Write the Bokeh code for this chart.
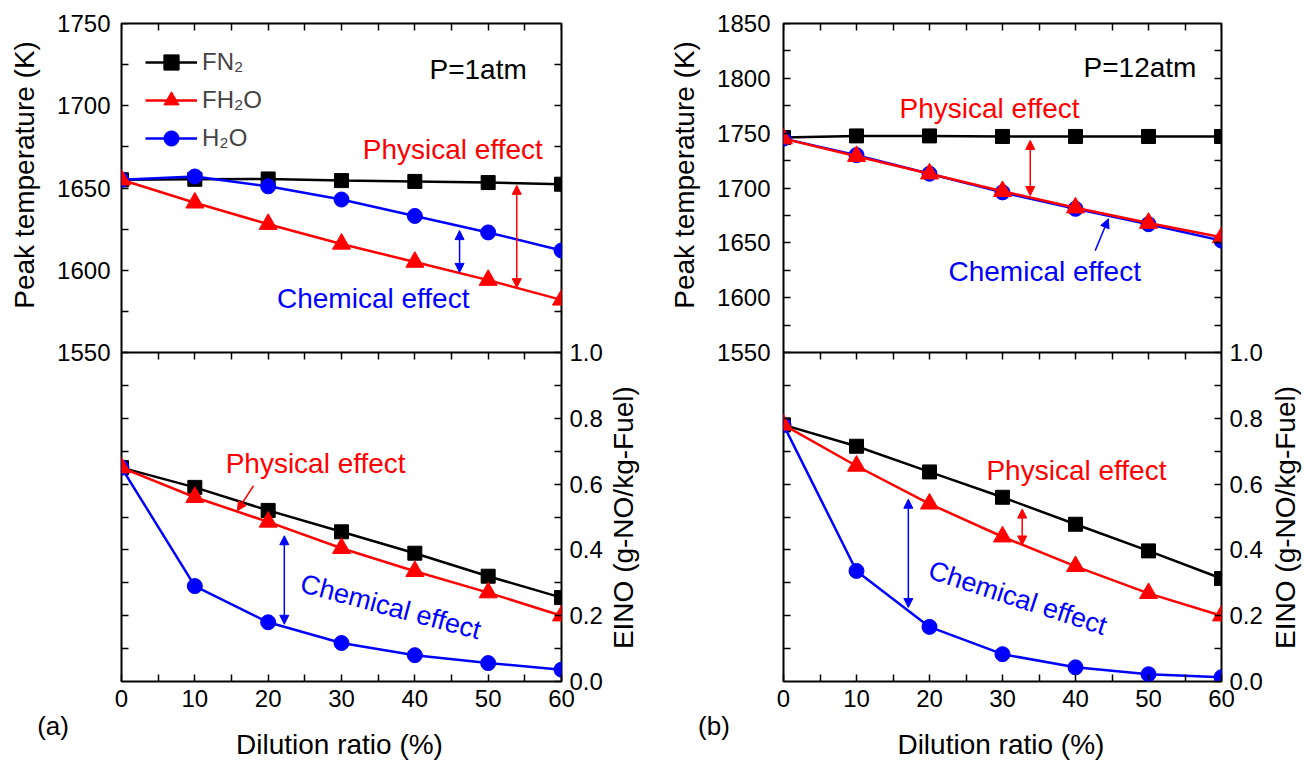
from bokeh.plotting import figure
from bokeh.models import (Range1d, LinearAxis, FixedTicker, Label, Arrow, NormalHead,
                          Legend, LegendItem, NumeralTickFormatter)
from bokeh.layouts import row, column
from bokeh.embed import file_html
from bokeh.resources import INLINE

# ---------------------------------------------------------------- data
dilution = [0, 10, 20, 30, 40, 50, 60]

# P = 1 atm : peak temperature (K)
t1_fn2 = [1655, 1655.3, 1655.5, 1654.5, 1654, 1653.3, 1652.3]
t1_fh2o = [1655, 1641, 1628, 1616, 1605, 1594, 1582]
t1_h2o = [1655, 1657, 1651, 1643, 1633, 1623, 1612]
# P = 1 atm : EINO (g-NO/kg-Fuel)
eino1_fn2 = [0.65, 0.59, 0.52, 0.455, 0.39, 0.32, 0.255]
eino1_fh2o = [0.65, 0.56, 0.485, 0.405, 0.335, 0.27, 0.2]
eino1_h2o = [0.65, 0.29, 0.18, 0.117, 0.08, 0.056, 0.036]

# P = 12 atm : peak temperature (K)
t12_fn2 = [1746, 1747.5, 1747.5, 1747, 1747, 1747, 1747]
t12_fh2o = [1745, 1729, 1713, 1697, 1682, 1668, 1655]
t12_h2o = [1745, 1730, 1713, 1696, 1681, 1667, 1652]
# P = 12 atm : EINO (g-NO/kg-Fuel)
eino12_fn2 = [0.78, 0.715, 0.637, 0.56, 0.478, 0.397, 0.313]
eino12_fh2o = [0.78, 0.655, 0.54, 0.44, 0.35, 0.268, 0.2]
eino12_h2o = [0.78, 0.336, 0.166, 0.083, 0.043, 0.022, 0.013]

series_names = ["FN\u2082", "FH\u2082O", "H\u2082O"]

x_ticks = [0, 10, 20, 30, 40, 50, 60]
x_minor = [5, 15, 25, 35, 45, 55]
t1_ticks = [1550, 1600, 1650, 1700, 1750]
t12_ticks = [1550, 1600, 1650, 1700, 1750, 1800, 1850]
eino_ticks = [0.0, 0.2, 0.4, 0.6, 0.8, 1.0]
eino_minor = [0.1, 0.3, 0.5, 0.7, 0.9]

FONT = "Liberation Sans"
RED = "#ff0000"
BLUE = "#0000ff"
BLACK = "#000000"

# panel geometry (pixels inside one panel)
TOP, BOTTOM = 23, 681          # plot box top / bottom
MAIN_H = 719                   # plot box plus the dilution tick labels
PAGE_H = 761
LEFT_PAD = 7                   # room for half of the "0" tick label
RIGHT_PAD = 45                 # room for the EINO tick labels


def style_axis(ax, labels=True, side_in=7):
    ax.major_tick_in = side_in
    ax.major_tick_out = 0
    ax.minor_tick_in = side_in
    ax.minor_tick_out = 0
    ax.major_tick_line_width = 1.5
    ax.minor_tick_line_width = 1.5
    ax.major_tick_line_color = BLACK
    ax.minor_tick_line_color = BLACK
    ax.axis_line_color = None
    ax.major_label_text_font = FONT
    ax.major_label_text_font_size = "24px"
    ax.major_label_text_color = BLACK if labels else None
    return ax


def add_text(p, text, x, y, color=BLACK, size="28px", rng="default", angle=0):
    # anchored at the start of the text, vertically at its middle
    p.add_layout(Label(x=x, y=y, text=text, text_font=FONT, text_font_size=size,
                       text_color=color, text_align="left", text_baseline="middle",
                       angle=angle, angle_units="deg", y_range_name=rng))


def add_arrow(p, x0, y0, x1, y1, color, rng="default", double=True):
    head = dict(size=9, fill_color=color, line_color=color, line_width=1)
    p.add_layout(Arrow(x_start=x0, y_start=y0, x_end=x1, y_end=y1,
                       start=NormalHead(**head) if double else None,
                       end=NormalHead(**head),
                       line_color=color, line_width=1.5, y_range_name=rng))


def text_box(geo, px0, px1, py0, py1):
    """A bare figure covering a pixel rectangle of the panel, with ranges
    aligned to the plot's own data coordinates so labels can use them."""
    L, R = geo["L"], geo["R"]
    (x0, x1), (y0, y1), (e0, e1) = geo["x"], geo["y"], geo["e"]

    def fx(px):
        return x0 + (px - L) * (x1 - x0) / (R - L)

    def fy(py):
        return y1 - (py - TOP) * (y1 - y0) / (BOTTOM - TOP)

    def fe(py):
        return e1 - (py - TOP) * (e1 - e0) / (BOTTOM - TOP)

    f = figure(width=px1 - px0, height=py1 - py0, min_border=0,
               x_range=Range1d(fx(px0), fx(px1)), y_range=Range1d(fy(py1), fy(py0)),
               x_axis_location=None, y_axis_location=None,
               output_backend="svg", toolbar_location=None)
    f.extra_y_ranges = {"eino": Range1d(fe(py1), fe(py0))}
    f.grid.visible = False
    f.outline_line_color = None
    f.background_fill_color = "white"
    f.border_fill_color = "white"
    return f


def make_panel(temps, einos, t_lo, t_hi, t_ticks, frame_left, frame_w, panel_w,
               label_gap, texts, arrows, with_legend):
    span = t_hi - t_lo
    p = figure(frame_width=frame_w, frame_height=BOTTOM - TOP,
               min_border_left=LEFT_PAD, min_border_right=RIGHT_PAD,
               min_border_top=TOP, min_border_bottom=MAIN_H - BOTTOM,
               x_range=Range1d(0, 60), y_range=Range1d(t_lo - span, t_hi),
               x_axis_location=None, y_axis_location=None,
               output_backend="svg", toolbar_location=None)
    p.extra_y_ranges = {"eino": Range1d(0, 2.0)}
    p.grid.visible = False
    p.outline_line_color = BLACK
    p.outline_line_width = 2
    p.background_fill_color = "white"
    p.border_fill_color = "white"

    # ticks along the left edge: temperature (upper half), EINO steps (lower half)
    t_minor = [t + 25 for t in t_ticks[:-1]]
    left = LinearAxis(fixed_location=0,
                      ticker=FixedTicker(ticks=t_ticks, minor_ticks=t_minor))
    p.add_layout(style_axis(left, labels=False), "left")
    left_low = LinearAxis(y_range_name="eino", fixed_location=0,
                          ticker=FixedTicker(ticks=eino_minor + eino_ticks[1:-1]))
    p.add_layout(style_axis(left_low, labels=False), "left")

    # EINO axis (lower half, right)
    right = LinearAxis(y_range_name="eino",
                       ticker=FixedTicker(ticks=eino_ticks, minor_ticks=eino_minor),
                       formatter=NumeralTickFormatter(format="0.0"),
                       major_label_standoff=8)
    p.add_layout(style_axis(right), "right")
    # unlabeled ticks on the right edge of the upper half
    right_up = LinearAxis(fixed_location=60,
                          ticker=FixedTicker(ticks=list(range(t_lo + 25, t_hi, 25))))
    p.add_layout(style_axis(right_up, labels=False), "right")

    # dilution axis at the bottom, plus tick rows on the top edge and the divider
    x_tick = FixedTicker(ticks=x_ticks, minor_ticks=x_minor)
    bottom = LinearAxis(ticker=x_tick, major_label_standoff=8)
    p.add_layout(style_axis(bottom), "below")
    top = LinearAxis(fixed_location=t_hi, ticker=x_tick)
    p.add_layout(style_axis(top, labels=False), "above")
    divider = LinearAxis(fixed_location=t_lo, ticker=x_tick)
    style_axis(divider, labels=False)
    divider.axis_line_color = BLACK
    divider.axis_line_width = 2
    p.add_layout(divider, "above")

    # series: FN2 (black squares), H2O (blue circles), FH2O (red triangles)
    styles = [(BLACK, "square", 14), (RED, "triangle", 18), (BLUE, "circle", 15)]
    items = {}
    for idx in (0, 2, 1):
        color, marker, size = styles[idx]
        l1 = p.line(dilution, temps[idx], line_color=color, line_width=2.5)
        s1 = p.scatter(dilution, temps[idx], marker=marker, size=size,
                       fill_color=color, line_color=color)
        p.line(dilution, einos[idx], line_color=color, line_width=2.5,
               y_range_name="eino")
        p.scatter(dilution, einos[idx], marker=marker, size=size,
                  fill_color=color, line_color=color, y_range_name="eino")
        items[idx] = LegendItem(label=series_names[idx], renderers=[l1, s1])

    if with_legend:
        legend = Legend(items=[items[0], items[1], items[2]],
                        location=(24, 524), orientation="vertical",
                        glyph_width=52, glyph_height=38, label_height=38,
                        spacing=0, padding=0, margin=0, label_standoff=5,
                        label_text_font=FONT, label_text_font_size="24px",
                        border_line_color=None, background_fill_alpha=0)
        p.add_layout(legend)

    # text areas around the plot box
    geo = dict(L=frame_left, R=frame_left + frame_w, x=(0, 60),
               y=(t_lo - span, t_hi), e=(0, 2.0))
    left_w = frame_left - LEFT_PAD
    right_start = frame_left + frame_w + RIGHT_PAD
    boxes = {
        "main": p,
        "left": text_box(geo, 0, left_w, 0, PAGE_H),
        "right": text_box(geo, right_start, panel_w, 0, PAGE_H),
        "bottom": text_box(geo, left_w, right_start, MAIN_H, PAGE_H),
    }

    # temperature tick labels, set against the right edge of the left strip
    lb = boxes["left"]
    t_labels = LinearAxis(fixed_location=lb.x_range.end, ticker=FixedTicker(ticks=t_ticks),
                          major_label_standoff=label_gap)
    style_axis(t_labels, side_in=0)
    t_labels.major_tick_line_color = None
    t_labels.minor_tick_line_color = None
    lb.add_layout(t_labels, "left")

    for where, text, x, y, color, kw in texts:
        add_text(boxes[where], text, x, y, color, **kw)
    for a in arrows:
        add_arrow(p, *a[:5], **a[5])

    return row(boxes["left"], column(p, boxes["bottom"]), boxes["right"])


texts_a = [
    ("main", "P=1atm", 42.0, 1722.2, BLACK, {}),
    ("main", "Physical effect", 32.9, 1673.5, RED, {}),
    ("main", "Chemical effect", 21.2, 1583.0, BLUE, {}),
    ("main", "Physical effect", 14.2, 0.6635, RED, dict(rng="eino")),
    ("main", "Chemical effect", 24.5, 0.300, BLUE,
     dict(size="27px", rng="eino", angle=-15)),
    ("left", "Peak temperature (K)", -13.2, 1576.6, BLACK, dict(angle=90)),
    ("right", "EINO (g-NO/kg-Fuel)", 68.4, 0.0985, BLACK, dict(rng="eino", angle=90)),
    ("left", "(a)", -11.5, -0.134, BLACK, dict(size="26px", rng="eino")),
    ("bottom", "Dilution ratio (%)", 16.5, -0.19, BLACK, dict(rng="eino")),
]
arrows_a = [
    (53.9, 1651.6, 53.9, 1589.4, RED, {}),
    (46.1, 1624.1, 46.1, 1598.7, BLUE, {}),
    (18.0, 0.595, 15.8, 0.519, RED, dict(rng="eino", double=False)),
    (22.2, 0.443, 22.2, 0.174, BLUE, dict(rng="eino")),
]

texts_b = [
    ("main", "P=12atm", 41.1, 1809.6, BLACK, {}),
    ("main", "Physical effect", 15.9, 1772.8, RED, {}),
    ("main", "Chemical effect", 22.6, 1623.9, BLUE, {}),
    ("main", "Physical effect", 27.8, 0.6404, RED, dict(rng="eino")),
    ("main", "Chemical effect", 20.0, 0.341, BLUE,
     dict(size="27px", rng="eino", angle=-18)),
    ("left", "Peak temperature (K)", -13.6, 1589.9, BLACK, dict(angle=90)),
    ("right", "EINO (g-NO/kg-Fuel)", 68.7, 0.099, BLACK, dict(rng="eino", angle=90)),
    ("left", "(b)", -11.7, -0.134, BLACK, dict(size="26px", rng="eino")),
    ("bottom", "Dilution ratio (%)", 16.5, -0.19, BLACK, dict(rng="eino")),
]
arrows_b = [
    (33.8, 1743.4, 33.8, 1693.1, RED, {}),
    (42.7, 1642.9, 44.5, 1671.9, BLUE, dict(double=False)),
    (32.7, 0.524, 32.7, 0.415, RED, dict(rng="eino")),
    (17.1, 0.554, 17.1, 0.225, BLUE, dict(rng="eino")),
]

pa = make_panel([t1_fn2, t1_fh2o, t1_h2o], [eino1_fn2, eino1_fh2o, eino1_h2o],
                1550, 1750, t1_ticks, 121, 440, 660, 4, texts_a, arrows_a, True)
pb = make_panel([t12_fn2, t12_fh2o, t12_h2o], [eino12_fn2, eino12_fh2o, eino12_h2o],
                1550, 1850, t12_ticks, 123, 438, 655, 6, texts_b, arrows_b, False)

layout = row(pa, pb)
open("out.html", "w").write(file_html(layout, INLINE))
